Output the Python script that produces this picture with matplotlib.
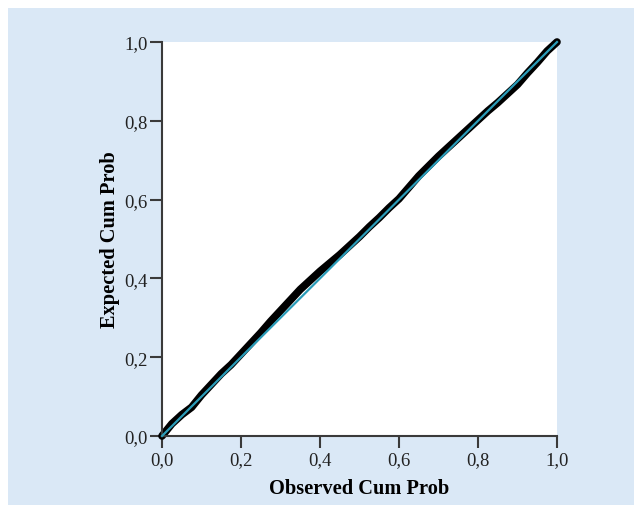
import matplotlib
matplotlib.use("Agg")
import matplotlib.pyplot as plt
from matplotlib.patches import Rectangle

# P-P plot values
observed = [0.000, 0.025, 0.050, 0.075, 0.100, 0.125, 0.150, 0.175, 0.200, 0.225,
            0.250, 0.275, 0.300, 0.325, 0.350, 0.375, 0.400, 0.425, 0.450, 0.475,
            0.500, 0.525, 0.550, 0.575, 0.600, 0.625, 0.650, 0.675, 0.700, 0.725,
            0.750, 0.775, 0.800, 0.825, 0.850, 0.875, 0.900, 0.925, 0.950, 0.975, 1.000]
expected = [0.000, 0.031, 0.054, 0.073, 0.104, 0.131, 0.158, 0.181, 0.208, 0.235,
            0.262, 0.291, 0.318, 0.345, 0.372, 0.395, 0.418, 0.439, 0.460, 0.483,
            0.506, 0.531, 0.554, 0.579, 0.602, 0.631, 0.660, 0.685, 0.710, 0.733,
            0.756, 0.779, 0.802, 0.825, 0.846, 0.869, 0.892, 0.921, 0.948, 0.977, 1.000]
ticks = [0.0, 0.2, 0.4, 0.6, 0.8, 1.0]
tick_labels = ["0,0", "0,2", "0,4", "0,6", "0,8", "1,0"]

plt.rcParams['font.family'] = ['Liberation Serif', 'DejaVu Serif']

fig = plt.figure(figsize=(6.34, 5.06), dpi=100, facecolor="white")
fig.patches.append(Rectangle((8 / 634, 0), 1, 1 - 9 / 506, transform=fig.transFigure,
                             facecolor="#DAE8F6", edgecolor="none", zorder=-1))

ax = fig.add_axes([162 / 634, 69 / 506, 395 / 634, 394 / 506])
ax.set_facecolor("white")

# the observations form a thick black band
ax.plot(observed, expected, color="black", linewidth=5.5, solid_capstyle="round",
        solid_joinstyle="round", clip_on=False, zorder=2)
# reference diagonal
ax.plot([0, 1], [0, 1], color="#2B9CB8", linewidth=1.6, clip_on=False, zorder=3)

ax.set_xlim(0, 1)
ax.set_ylim(0, 1)
ax.set_xticks(ticks)
ax.set_xticklabels(tick_labels)
ax.set_yticks(ticks)
ax.set_yticklabels(tick_labels)

for side in ["top", "right"]:
    ax.spines[side].set_visible(False)
for side in ["left", "bottom"]:
    ax.spines[side].set_color("#3a3a3a")
    ax.spines[side].set_linewidth(1.5)

ax.tick_params(axis="both", direction="out", length=8.6, width=1.5, color="#3a3a3a",
               labelsize=13.5, labelcolor="#222222")
ax.tick_params(axis="y", pad=1.5)
ax.tick_params(axis="x", pad=2.5)

ax.set_xlabel("Observed Cum Prob", fontsize=14.7, fontweight="bold", labelpad=7)
ax.set_ylabel("Expected Cum Prob", fontsize=14.7, fontweight="bold", labelpad=3)

fig.savefig("out.png", dpi=100, facecolor=fig.get_facecolor())
